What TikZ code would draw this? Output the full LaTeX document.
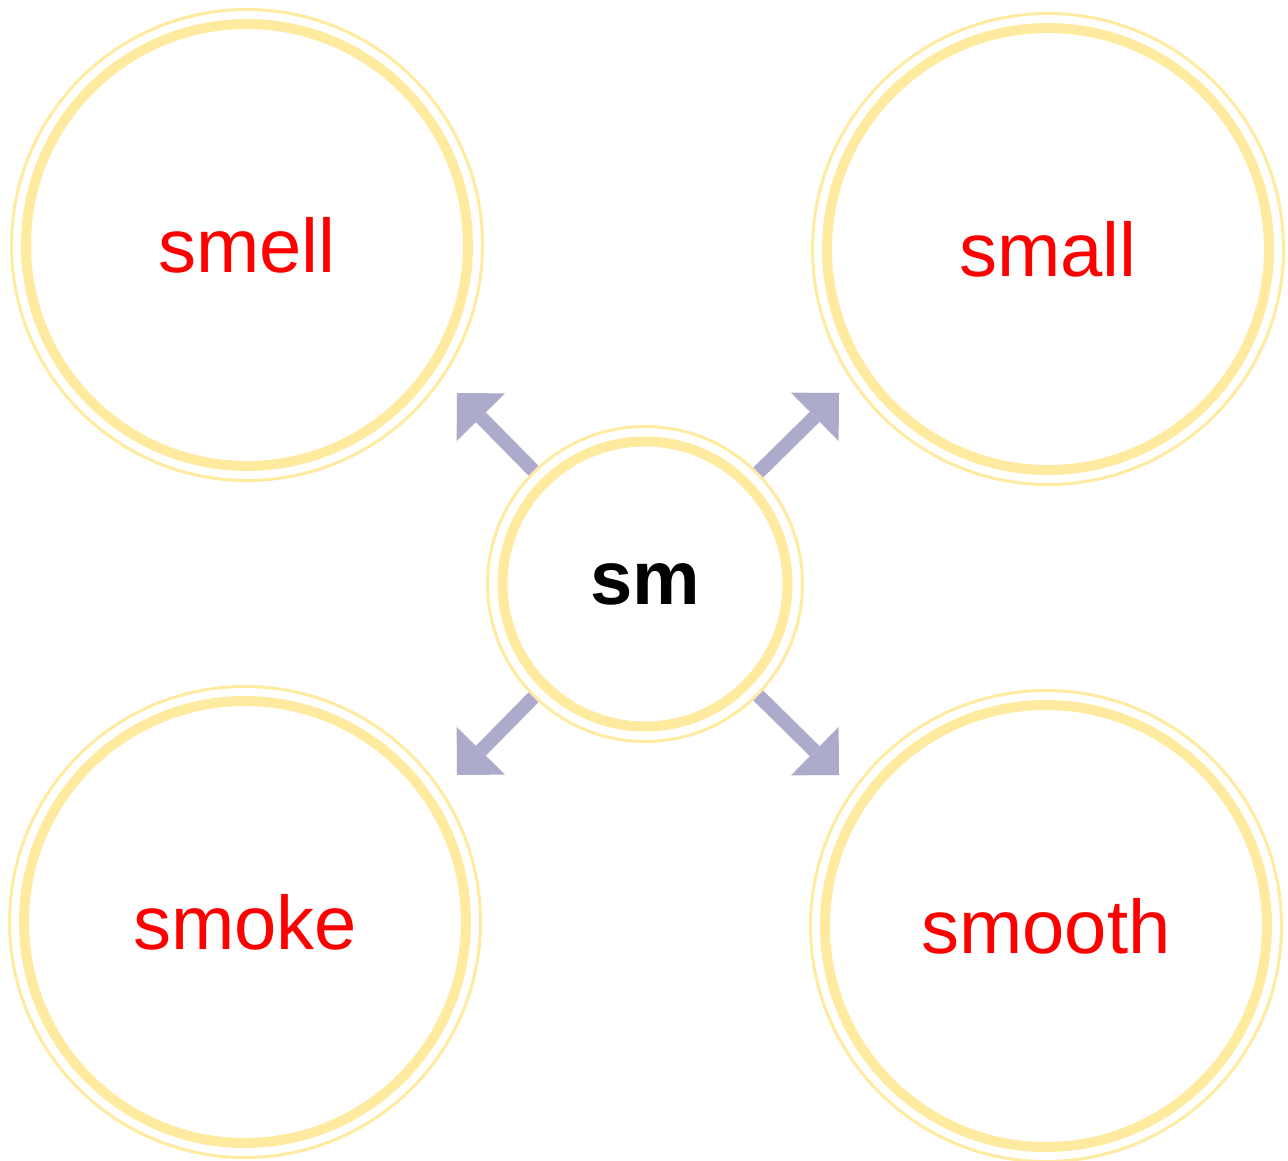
\documentclass[tikz,border=0pt]{standalone}
\usepackage{fontspec}
\setmainfont{Liberation Sans}
\usepackage{xcolor}
\usepackage{tikz}
\usetikzlibrary{arrows.meta}

\definecolor{ringyellow}{RGB}{255,235,160}
\definecolor{spokeblue}{RGB}{172,171,203}

\begin{document}
\begin{tikzpicture}[x=0.5pt, y=-0.5pt,
    >={Triangle[length=17pt, width=34pt, line width=0pt]},
    word/.style={circle, draw=ringyellow, line width=1.5pt, minimum size=235.5pt,
      inner sep=0pt, text=red, font=\fontsize{38}{40}\selectfont},
    hub/.style={circle, draw=ringyellow, line width=1.5pt, minimum size=157.5pt,
      inner sep=0pt, fill=white, font=\fontsize{38}{40}\selectfont\bfseries},
    band/.style={draw=ringyellow, line width=5pt},
    spoke/.style={->, draw=spokeblue, line width=7pt}]
  \useasboundingbox (0,0) rectangle (1288,1160);
  % word circles
  \node[word] (smell)  at (247,245) {smell};
  \node[word] (small)  at (1048,249) {small};
  \node[word] (smoke)  at (245,922) {smoke};
  \node[word] (smooth) at (1046,926) {smooth};
  \foreach \n in {smell,small,smoke,smooth}
    \draw[band] (\n.center) circle (110.5pt);
  % hub
  \node[hub] (sm) at (645,584) {sm};
  \draw[band] (sm.center) circle (71.25pt);
  % arrow tips
  \coordinate (tipsmell)  at (457,393);
  \coordinate (tipsmall)  at (839,393);
  \coordinate (tipsmoke)  at (457,775);
  \coordinate (tipsmooth) at (839,775);
  % spokes
  \foreach \n in {smell,small,smoke,smooth}
    \draw[spoke] (sm) -- (tip\n);
\end{tikzpicture}
\end{document}
